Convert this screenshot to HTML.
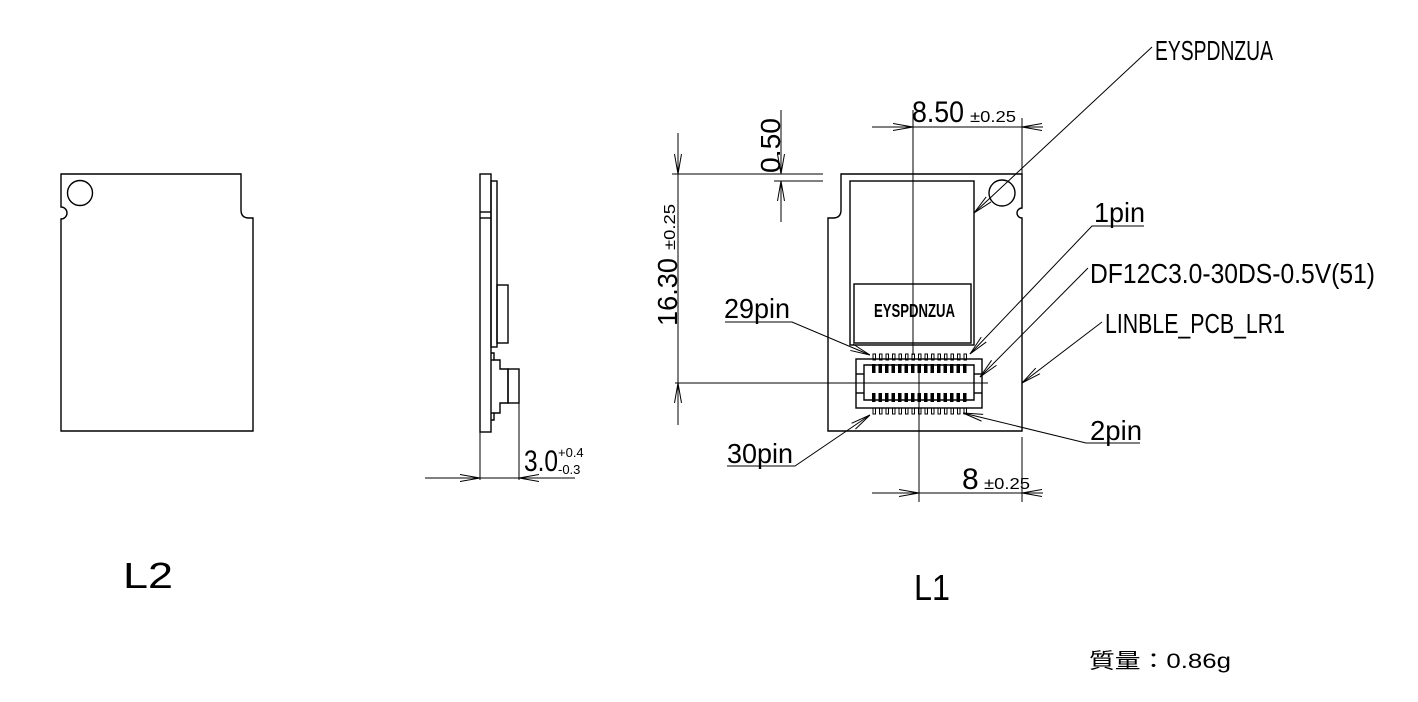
<!DOCTYPE html>
<html><head><meta charset="utf-8"><style>
html,body{margin:0;padding:0;background:#fff;}
svg{display:block;}
text{font-family:"Liberation Sans","Noto Sans CJK JP",sans-serif;fill:#000;}
</style></head><body>
<svg width="1418" height="702" viewBox="0 0 1418 702" xmlns="http://www.w3.org/2000/svg">
<defs>
<marker id="a" viewBox="0 0 20 10" refX="20" refY="5" markerWidth="20" markerHeight="10" markerUnits="userSpaceOnUse" orient="auto">
<path d="M0,1.5 L20,5 L0,8.5" fill="none" stroke="#000" stroke-width="1"/>
</marker>
</defs>
<g fill="none" stroke="#000" stroke-width="1.4">
<path d="M61,174 H241 V210 Q241,218 249,218 H253 V431 H61 V219 A6,6 0 0 0 61,207 Z"/>
<circle cx="80" cy="193" r="12.5"/>
<rect x="480" y="174" width="11" height="258"/>
<line x1="480" y1="212" x2="491" y2="212"/><line x1="480" y1="218" x2="491" y2="218"/>
<rect x="491" y="181" width="6" height="166"/>
<rect x="497" y="285" width="11" height="58"/>
<path d="M491,353 H494 V360 H500 V369 H508 V403 H500 V413 H494 V420 H491"/>
<rect x="508" y="369" width="11" height="34"/>
<line x1="491" y1="360" x2="494" y2="360"/><line x1="491" y1="413" x2="494" y2="413"/>
<path d="M841,174 H1022 V208 A5,5 0 0 0 1022,218 V431 H828 V218 H833 Q841,218 841,210 Z"/>
<circle cx="1002" cy="193" r="13"/>
<rect x="850" y="181" width="124" height="164"/>
<rect x="854" y="284" width="117" height="59"/>
<rect x="856" y="359" width="126" height="49"/>
<path d="M864,365 H974 V400 H864 Z"/>
<line x1="856" y1="374" x2="864" y2="374"/><line x1="856" y1="393" x2="864" y2="393"/>
<line x1="974" y1="374" x2="982" y2="374"/><line x1="974" y1="393" x2="982" y2="393"/>
</g>
<g fill="none" stroke="#000" stroke-width="1">
<path d="M873,354h2.5v6h-2.5zM879.5,354h2.5v6h-2.5zM886,354h2.5v6h-2.5zM892.5,354h2.5v6h-2.5zM899,354h2.5v6h-2.5zM905.5,354h2.5v6h-2.5zM912,354h2.5v6h-2.5zM918.5,354h2.5v6h-2.5zM925,354h2.5v6h-2.5zM931.5,354h2.5v6h-2.5zM938,354h2.5v6h-2.5zM944.5,354h2.5v6h-2.5zM951,354h2.5v6h-2.5zM957.5,354h2.5v6h-2.5zM964,354h2.5v6h-2.5z"/>
<path d="M873,408h2.5v6h-2.5zM879.5,408h2.5v6h-2.5zM886,408h2.5v6h-2.5zM892.5,408h2.5v6h-2.5zM899,408h2.5v6h-2.5zM905.5,408h2.5v6h-2.5zM912,408h2.5v6h-2.5zM918.5,408h2.5v6h-2.5zM925,408h2.5v6h-2.5zM931.5,408h2.5v6h-2.5zM938,408h2.5v6h-2.5zM944.5,408h2.5v6h-2.5zM951,408h2.5v6h-2.5zM957.5,408h2.5v6h-2.5zM964,408h2.5v6h-2.5z"/>
</g>
<g fill="#000">
<path d="M872,364h3.5v9h-3.5zM878.5,364h3.5v9h-3.5zM885,364h3.5v9h-3.5zM891.5,364h3.5v9h-3.5zM898,364h3.5v9h-3.5zM904.5,364h3.5v9h-3.5zM911,364h3.5v9h-3.5zM917.5,364h3.5v9h-3.5zM924,364h3.5v9h-3.5zM930.5,364h3.5v9h-3.5zM937,364h3.5v9h-3.5zM943.5,364h3.5v9h-3.5zM950,364h3.5v9h-3.5zM956.5,364h3.5v9h-3.5zM963,364h3.5v9h-3.5z"/>
<path d="M872,393h3.5v9h-3.5zM878.5,393h3.5v9h-3.5zM885,393h3.5v9h-3.5zM891.5,393h3.5v9h-3.5zM898,393h3.5v9h-3.5zM904.5,393h3.5v9h-3.5zM911,393h3.5v9h-3.5zM917.5,393h3.5v9h-3.5zM924,393h3.5v9h-3.5zM930.5,393h3.5v9h-3.5zM937,393h3.5v9h-3.5zM943.5,393h3.5v9h-3.5zM950,393h3.5v9h-3.5zM956.5,393h3.5v9h-3.5zM963,393h3.5v9h-3.5z"/>
</g>
<g fill="none" stroke="#000" stroke-width="1">
<line x1="913" y1="110" x2="913" y2="355"/>
<line x1="919" y1="370" x2="919" y2="502"/>
<line x1="675" y1="383" x2="988" y2="383"/>
<line x1="872" y1="127" x2="913" y2="127" marker-end="url(#a)"/>
<line x1="913" y1="127" x2="1022" y2="127"/>
<line x1="1043" y1="127" x2="1022" y2="127" marker-end="url(#a)"/>
<line x1="1022" y1="118" x2="1022" y2="174"/>
<line x1="872" y1="493" x2="919" y2="493" marker-end="url(#a)"/>
<line x1="919" y1="493" x2="1022" y2="493"/>
<line x1="1043" y1="493" x2="1022" y2="493" marker-end="url(#a)"/>
<line x1="1022" y1="437" x2="1022" y2="502"/>
<line x1="672" y1="174" x2="823" y2="174"/>
<line x1="774" y1="181" x2="823" y2="181"/>
<line x1="678" y1="133" x2="678" y2="174" marker-end="url(#a)"/>
<line x1="678" y1="174" x2="678" y2="383"/>
<line x1="678" y1="425" x2="678" y2="383" marker-end="url(#a)"/>
<line x1="781" y1="110" x2="781" y2="174" marker-end="url(#a)"/>
<line x1="781" y1="222" x2="781" y2="181" marker-end="url(#a)"/>
<line x1="480" y1="432" x2="480" y2="480"/>
<line x1="519" y1="403" x2="519" y2="480"/>
<line x1="425" y1="478" x2="480" y2="478" marker-end="url(#a)"/>
<line x1="575" y1="478" x2="519" y2="478" marker-end="url(#a)"/>
<line x1="480" y1="478" x2="519" y2="478"/>
<path d="M1152,47 L974,213" marker-end="url(#a)"/>
<path d="M1144,226 H1092 L970,354" marker-end="url(#a)"/>
<path d="M1088,268 L980,377" marker-end="url(#a)"/>
<path d="M1102,322 L1022,383" marker-end="url(#a)"/>
<path d="M1140,443 H1086 L963,413" marker-end="url(#a)"/>
<path d="M725,322 H792 L870,355" marker-end="url(#a)"/>
<path d="M727,466 H795 L870,415" marker-end="url(#a)"/>
</g>
<text x="912" y="122" font-size="30" textLength="52" lengthAdjust="spacingAndGlyphs">8.50</text>
<text x="970" y="122" font-size="16" textLength="46" lengthAdjust="spacingAndGlyphs">±0.25</text>
<text x="962" y="489" font-size="30">8</text>
<text x="984" y="489" font-size="16" textLength="46" lengthAdjust="spacingAndGlyphs">±0.25</text>
<text x="524" y="471" font-size="30" textLength="34" lengthAdjust="spacingAndGlyphs">3.0</text>
<text x="558" y="457" font-size="13">+0.4</text>
<text x="558" y="474" font-size="13">-0.3</text>
<text transform="translate(780,173) rotate(-90)" font-size="28" textLength="55" lengthAdjust="spacingAndGlyphs">0.50</text>
<text transform="translate(677,326) rotate(-90)" font-size="28" textLength="68" lengthAdjust="spacingAndGlyphs">16.30</text>
<text transform="translate(675,250) rotate(-90)" font-size="16" textLength="46" lengthAdjust="spacingAndGlyphs">±0.25</text>
<text x="874" y="317" font-size="18" font-weight="bold" textLength="81" lengthAdjust="spacingAndGlyphs">EYSPDNZUA</text>
<text x="1155" y="60" font-size="28" textLength="118" lengthAdjust="spacingAndGlyphs">EYSPDNZUA</text>
<text x="1094" y="222" font-size="28" textLength="51" lengthAdjust="spacingAndGlyphs">1pin</text>
<text x="1090" y="283" font-size="28" textLength="285" lengthAdjust="spacingAndGlyphs">DF12C3.0-30DS-0.5V(51)</text>
<text x="1105" y="333" font-size="28" textLength="180" lengthAdjust="spacingAndGlyphs">LINBLE_PCB_LR1</text>
<text x="1090" y="440" font-size="28" textLength="52" lengthAdjust="spacingAndGlyphs">2pin</text>
<text x="724" y="318" font-size="28" textLength="66" lengthAdjust="spacingAndGlyphs">29pin</text>
<text x="727" y="463" font-size="28" textLength="66" lengthAdjust="spacingAndGlyphs">30pin</text>
<text x="123" y="588" font-size="36" textLength="50" lengthAdjust="spacingAndGlyphs">L2</text>
<text x="914" y="600" font-size="36" textLength="36" lengthAdjust="spacingAndGlyphs">L1</text>
<text x="1089" y="668" font-size="21" textLength="142" lengthAdjust="spacingAndGlyphs">質量：0.86g</text>
</svg>
</body></html>
